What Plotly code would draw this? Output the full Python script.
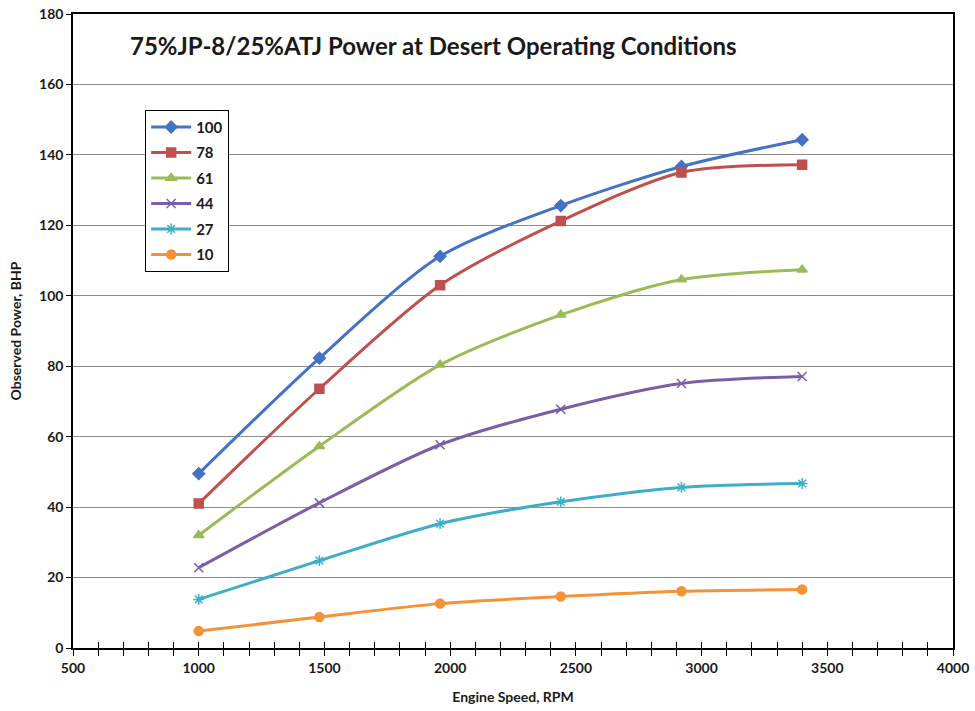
import plotly.graph_objects as go

rpm = [1000, 1480, 1960, 2440, 2920, 3400]
series_names = ["100", "78", "61", "44", "27", "10"]
p100 = [49.5, 82.3, 111.2, 125.6, 136.7, 144.3]
p78 = [41.0, 73.6, 103.0, 121.2, 135.0, 137.2]
p61 = [32.0, 57.3, 80.4, 94.6, 104.6, 107.4]
p44 = [22.8, 41.2, 57.7, 67.8, 75.1, 77.1]
p27 = [13.8, 24.8, 35.3, 41.5, 45.6, 46.7]
p10 = [4.8, 8.8, 12.6, 14.6, 16.1, 16.6]
values = [p100, p78, p61, p44, p27, p10]

colors = ["#4472C4", "#C0504D", "#9BBB59", "#7A5FA6", "#3DAEC6", "#F39237"]
symbols = ["diamond", "square", "triangle-up", "x-thin-open", "asterisk-open", "circle"]
sizes = [9, 9, 9, 9, 9, 9]

FONT = "Lato"

fig = go.Figure()
for name, vals, c, s, sz in zip(series_names, values, colors, symbols, sizes):
    fig.add_trace(go.Scatter(
        x=rpm, y=vals, name=name, mode="lines+markers",
        line=dict(color=c, width=3, shape="spline", smoothing=0.8),
        marker=dict(symbol=s, size=sz, color=c, line=dict(color=c, width=1.5)),
        legendgroup=name,
    ))

# invisible trace for the overlay axis (inside ticks)
fig.add_trace(go.Scatter(x=[500, 4000], y=[0, 0], xaxis="x2", mode="markers",
                         marker=dict(opacity=0), showlegend=False, hoverinfo="skip"))

fig.update_layout(
    width=975, height=711,
    margin=dict(l=73, r=22, t=14, b=63),
    paper_bgcolor="white", plot_bgcolor="white",
    font=dict(family=FONT, size=14, color="#1a1a1a"),
    showlegend=True,
    legend=dict(
        x=0.082, y=0.849, xanchor="left", yanchor="top",
        bordercolor="black", borderwidth=1, bgcolor="white",
        font=dict(family=FONT, size=15, color="#1a1a1a", weight="bold"),
        tracegroupgap=3, itemwidth=40,
    ),
    xaxis=dict(
        range=[500, 4000], dtick=500, tick0=500, automargin=False,
        showgrid=False, zeroline=False,
        showline=True, linecolor="black", linewidth=1.5, mirror=True,
        ticks="outside", ticklen=6, tickcolor="black",
        minor=dict(dtick=100, ticks="outside", ticklen=6, tickcolor="black", showgrid=False),
        tickfont=dict(family=FONT, size=14, weight="bold", color="#1a1a1a"),
        title=dict(text="Engine Speed, RPM", font=dict(family=FONT, size=14, weight="bold"), standoff=18),
    ),
    xaxis2=dict(
        range=[500, 4000], overlaying="x", side="bottom", anchor="y", automargin=False,
        dtick=100, tick0=500, ticks="inside", ticklen=6, tickcolor="black", tickwidth=1,
        showticklabels=False, showgrid=False, zeroline=False, showline=False,
    ),
    yaxis=dict(
        range=[0, 180], dtick=20, automargin=False,
        showgrid=True, gridcolor="#8c8c8c", gridwidth=1,
        zeroline=False,
        showline=True, linecolor="black", linewidth=1.5, mirror=True,
        ticks="outside", ticklen=5, tickcolor="black",
        tickfont=dict(family=FONT, size=14, weight="bold", color="#1a1a1a"),
        title=dict(text="Observed Power, BHP", font=dict(family=FONT, size=14, weight="bold"), standoff=14),
    ),
    annotations=[dict(
        text="75%JP-8/25%ATJ Power at Desert Operating Conditions",
        xref="paper", yref="paper", x=0.41, y=0.951, xanchor="center", yanchor="middle",
        showarrow=False, font=dict(family=FONT, size=24, weight="bold", color="#1a1a1a"),
    )],
)

fig.write_html("out.html", config={"displayModeBar": False},
               post_script="document.body.style.margin='0';")
